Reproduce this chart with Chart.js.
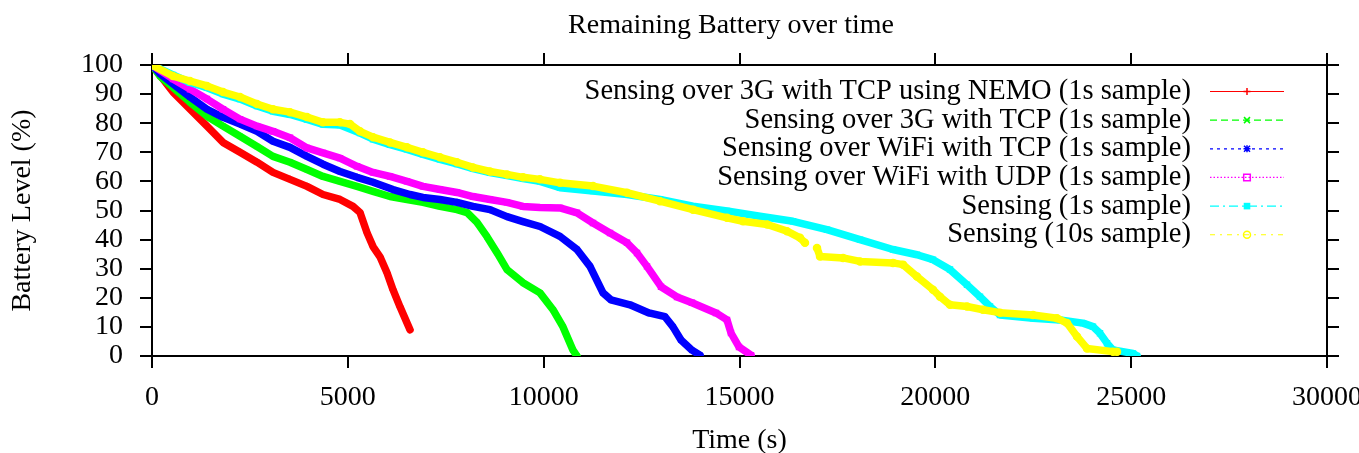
<!DOCTYPE html>
<html>
<head>
<meta charset="utf-8">
<script src="https://cdn.jsdelivr.net/npm/chart.js@4.4.1/dist/chart.umd.min.js"></script>
<style>
  html, body { margin: 0; padding: 0; background: #fff; }
  #wrap { width: 1359px; height: 453px; }
</style>
</head>
<body>
<div id="wrap"><canvas id="c" width="1359" height="453"></canvas></div>
<script>
// ---------------- data (time in s, battery level in %) ----------------
const chartTitle = 'Remaining Battery over time';
const xAxisTitle = 'Time (s)';
const yAxisTitle = 'Battery Level (%)';
const xRange = [0, 30000];
const xStep = 5000;
const yRange = [0, 100];
const yStep = 10;

const seriesLabels = [
  'Sensing over 3G with TCP using NEMO (1s sample)',
  'Sensing over 3G with TCP (1s sample)',
  'Sensing over WiFi with TCP (1s sample)',
  'Sensing over WiFi with UDP (1s sample)',
  'Sensing (1s sample)',
  'Sensing (10s sample)'
];

const nemo3gTcp = [[0,100],[536,90.7],[970,84.8],[1404,79],[1813,73.4],[2247,70],[2681,66.6],[3089,63.1],[3523,60.7],[3957,58.3],[4366,55.5],[4800,53.8],[5132,51.4],[5311,49.3],[5489,42.4],[5643,37.6],[5821,34.1],[6000,28.6],[6153,22.8],[6332,16.9],[6587,9]];

const g3Tcp = [[0,100],[204,96.2],[970,87.2],[1404,82.4],[1813,79],[2247,75.5],[2681,72],[3089,68.6],[3523,66.6],[3957,64.1],[4366,61.7],[4800,60],[5234,58.3],[5643,56.6],[6077,54.8],[6511,53.8],[6919,52.8],[7353,51.4],[7787,50.3],[8043,49.3],[8298,45.9],[8553,41],[8809,35.5],[9064,29.7],[9472,25.2],[9906,21.7],[10238,15.9],[10494,10],[10749,2],[10851,0]];

const wifiTcp = [[0,100],[204,97],[970,89],[1404,84.8],[1813,82],[2247,79.7],[2681,77.2],[3089,73.8],[3523,71.7],[3957,68.6],[4366,65.9],[4800,63.4],[5234,61.4],[5643,59.7],[6153,57.2],[6587,55.5],[6919,54.5],[7353,53.8],[7787,52.8],[8196,51.4],[8630,50.3],[9064,47.9],[9472,46.2],[9906,44.5],[10417,41.1],[10851,36.6],[11183,30.8],[11515,21.7],[11719,19.3],[12204,17.6],[12689,14.8],[13098,13.5],[13302,10],[13506,5.5],[13787,2],[13992,0.3]];

const wifiUdp = [[0,100],[536,95.2],[970,91.7],[1404,88.3],[1813,84.8],[2247,81.4],[2681,79],[3089,77.2],[3523,75],[3957,71.5],[4366,69.8],[4800,68],[5234,65.2],[5643,63.1],[6077,61.7],[6511,60],[6919,58.3],[7353,57.2],[7787,56.2],[8196,54.8],[8630,53.8],[9064,52.8],[9472,51.4],[9906,51],[10417,50.9],[10851,49.2],[11260,45.7],[11694,42.3],[12128,38.9],[12383,35.4],[12638,30.8],[12996,23.8],[13404,20.3],[13787,18.3],[14400,14.8],[14681,12.4],[14783,7.9],[14987,3.1],[15294,0.3]];

const sensing1s = [[0,100],[536,96.6],[970,94],[1404,92.2],[1813,90],[2247,88.3],[2681,85.9],[3089,84.1],[3523,83],[3957,81.3],[4366,79.6],[4800,79.4],[5311,76.6],[5643,74.5],[6077,72.6],[6511,71],[6919,69.3],[7353,67.6],[7787,66],[8196,64.4],[8630,63],[9064,62],[9472,61],[9906,60],[10417,57.8],[11260,56.7],[12128,55.5],[12970,53.8],[13813,51.5],[14681,49.8],[15523,48],[16366,46.3],[17234,43.4],[18077,40],[18919,36.6],[19532,34.8],[19940,33.1],[20374,29.7],[20809,24.5],[21140,20.4],[21396,17],[21651,14.1],[22494,13],[23183,12.4],[23770,11.3],[24025,10.1],[24204,7.8],[24383,4.4],[24536,2.1],[25047,0.9],[25149,0]];

const sensing10s = [[0,100],[536,96.2],[970,94.5],[1404,92.8],[1813,90.7],[2247,89],[2681,86.6],[3089,84.8],[3523,83.8],[3957,82.1],[4366,80.3],[4800,80.3],[5055,79.7],[5311,77.2],[5643,75.2],[6077,73.4],[6511,71.7],[6919,70],[7353,68.3],[7787,66.6],[8196,64.8],[8630,63.4],[9064,62.4],[9472,61.4],[9906,60.7],[10417,59.5],[11260,58.4],[12128,56.1],[12970,53.2],[13813,50.3],[14681,47.5],[15089,46.3],[15709,45.2],[16213,42.9],[16545,40.6],[16672,38.9],[16820,null],[16979,37.1],[17056,34.2],[17643,33.7],[18077,32.5],[18919,32],[19175,31.4],[19532,27.3],[19940,22.8],[20119,20.4],[20374,17.6],[20809,17],[21217,15.9],[21651,14.9],[22494,14.1],[23106,13],[23362,11.3],[23617,6.7],[23872,2.6],[24536,1.5],[24638,1.5]];

const seriesData = [nemo3gTcp, g3Tcp, wifiTcp, wifiUdp, sensing1s, sensing10s];
const seriesColors = ['#ff0000', '#00ff00', '#0000ff', '#ff00ff', '#00ffff', '#ffff00'];
const seriesPointStyles = ['cross', 'crossRot', 'star', 'rect', 'rect', 'circle'];
const legendDashes = [[], [7, 4], [3, 4], [1.5, 2], [9, 4, 2, 4], [5, 5, 2, 5]];
const legendMarkers = ['plus', 'x', 'star', 'openSquare', 'filledSquare', 'openCircle'];

// ---------------- layout constants ----------------
const FONT = '"Liberation Serif", "Times New Roman", serif';
const FS = 28;
const KEY_FS = 28.5;
const PLOT = { left: 152, right: 1327, top: 65, bottom: 356 };
const W = 1359, H = 453;

Chart.defaults.color = '#000';
Chart.defaults.font.family = FONT;
Chart.defaults.font.size = FS;

const datasets = seriesData.map((arr, i) => ({
  label: seriesLabels[i],
  data: arr.map(([x, y]) => ({ x: x, y: y })),
  borderColor: seriesColors[i],
  backgroundColor: (i === 3 || i === 5) ? 'rgba(0,0,0,0)' : seriesColors[i],
  borderWidth: 7.5,
  borderJoinStyle: 'round',
  borderCapStyle: 'round',
  pointStyle: seriesPointStyles[i],
  pointRadius: 3.5,
  pointBorderWidth: 1.5,
  pointBorderColor: seriesColors[i],
  pointBackgroundColor: (i === 3 || i === 5) ? 'rgba(0,0,0,0)' : seriesColors[i],
  showLine: true,
  spanGaps: false,
  tension: 0,
  order: seriesData.length - i,
  xAxisID: 'x',
  yAxisID: 'y'
}));

function drawMarker(ctx, kind, x, y, color) {
  ctx.save();
  ctx.setLineDash([]);
  ctx.strokeStyle = color;
  ctx.fillStyle = color;
  ctx.lineWidth = 1.5;
  const s = 3.5;
  ctx.beginPath();
  if (kind === 'plus' || kind === 'star') {
    ctx.moveTo(x - s, y); ctx.lineTo(x + s, y);
    ctx.moveTo(x, y - s); ctx.lineTo(x, y + s);
  }
  if (kind === 'x' || kind === 'star') {
    const d = 3;
    ctx.moveTo(x - d, y - d); ctx.lineTo(x + d, y + d);
    ctx.moveTo(x - d, y + d); ctx.lineTo(x + d, y - d);
  }
  if (kind === 'openSquare') ctx.rect(x - 3.3, y - 3.3, 6.6, 6.6);
  if (kind === 'openCircle') ctx.arc(x, y, 3.5, 0, Math.PI * 2);
  ctx.stroke();
  if (kind === 'filledSquare') ctx.fillRect(x - 3.3, y - 3.3, 6.6, 6.6);
  ctx.restore();
}

const gnuplotDecor = {
  id: 'gnuplotDecor',
  afterDatasetsDraw(chart) {
    const ctx = chart.ctx;
    ctx.save();
    // title
    ctx.fillStyle = '#000';
    ctx.font = FS + 'px ' + FONT;
    ctx.textAlign = 'center';
    ctx.textBaseline = 'alphabetic';
    ctx.fillText(chartTitle, 731, 33);
    // key (legend)
    ctx.font = KEY_FS + 'px ' + FONT;
    const rowY0 = 91.5, rowH = 28.65;
    const textRight = 1191, lineX1 = 1210, lineX2 = 1284, markX = 1247;
    chart.data.datasets.forEach((ds, i) => {
      const y = rowY0 + i * rowH;
      ctx.fillStyle = '#000';
      ctx.textAlign = 'right';
      ctx.textBaseline = 'middle';
      ctx.fillText(ds.label, textRight, y);
      ctx.save();
      ctx.strokeStyle = seriesColors[i];
      ctx.lineWidth = 1.2;
      ctx.setLineDash(legendDashes[i]);
      ctx.beginPath();
      ctx.moveTo(lineX1, y);
      ctx.lineTo(lineX2, y);
      ctx.stroke();
      ctx.restore();
      drawMarker(ctx, legendMarkers[i], markX, y, seriesColors[i]);
    });
    ctx.restore();
  }
};

const tickGrid = { drawOnChartArea: false, drawTicks: true, tickLength: 12, color: '#000', lineWidth: 2 };
const frameBorder = { display: true, color: '#000', width: 2 };
const plainNumber = (v) => String(v);

new Chart(document.getElementById('c'), {
  type: 'line',
  data: { datasets: datasets },
  options: {
    responsive: false,
    devicePixelRatio: 1,
    animation: false,
    layout: { padding: 0 },
    plugins: {
      legend: { display: false },
      title: { display: false },
      tooltip: { enabled: false }
    },
    scales: {
      x: {
        type: 'linear', position: 'bottom',
        min: xRange[0], max: xRange[1],
        ticks: { stepSize: xStep, color: '#000', padding: 13, font: { size: FS, family: FONT }, maxRotation: 0, autoSkip: false, callback: plainNumber },
        grid: tickGrid, border: frameBorder,
        title: { display: true, text: xAxisTitle, color: '#000', font: { size: FS, family: FONT, lineHeight: 1 }, padding: { top: 0, bottom: -1.5 } },
        afterFit(s) { s.height = H - PLOT.bottom; s.paddingLeft = 0; s.paddingRight = 0; }
      },
      y: {
        type: 'linear', position: 'left',
        min: yRange[0], max: yRange[1],
        ticks: { stepSize: yStep, color: '#000', padding: 17, font: { size: FS, family: FONT, lineHeight: 0.9 }, autoSkip: false, callback: plainNumber },
        grid: tickGrid, border: frameBorder,
        title: { display: true, text: yAxisTitle, color: '#000', font: { size: FS, family: FONT, lineHeight: 1 }, padding: { top: 9, bottom: 0 } },
        afterFit(s) { s.width = PLOT.left; s.paddingTop = 0; s.paddingBottom = 0; }
      },
      x2: {
        type: 'linear', position: 'top',
        min: xRange[0], max: xRange[1],
        ticks: { stepSize: xStep, display: false, autoSkip: false },
        grid: tickGrid, border: frameBorder,
        afterFit(s) { s.height = PLOT.top; s.paddingLeft = 0; s.paddingRight = 0; }
      },
      y2: {
        type: 'linear', position: 'right',
        min: yRange[0], max: yRange[1],
        ticks: { stepSize: yStep, display: false, autoSkip: false },
        grid: tickGrid, border: frameBorder,
        afterFit(s) { s.width = W - PLOT.right; s.paddingTop = 0; s.paddingBottom = 0; }
      }
    }
  },
  plugins: [gnuplotDecor]
});
</script>
</body>
</html>
